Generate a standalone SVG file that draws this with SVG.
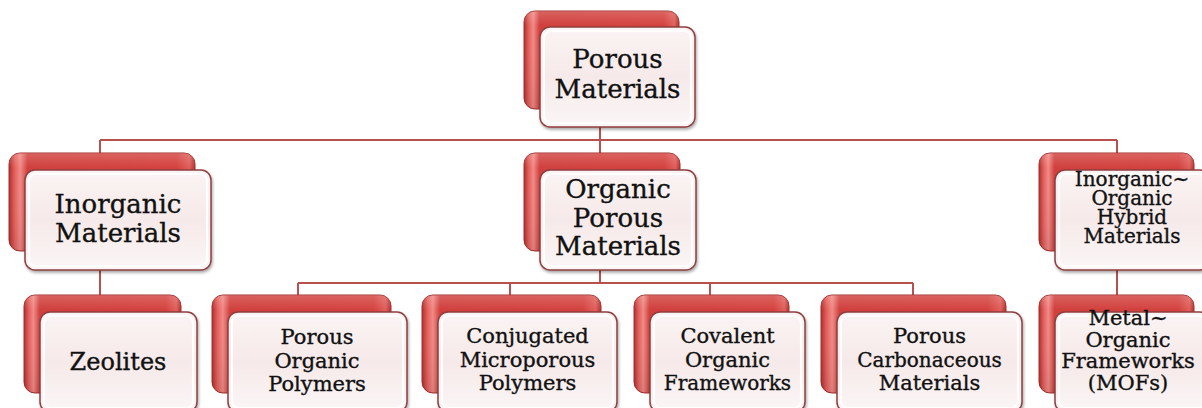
<svg xmlns="http://www.w3.org/2000/svg" width="1202" height="408" viewBox="0 0 1202 408">
<defs>
<linearGradient id="redH" x1="0" y1="0" x2="1" y2="0">
<stop offset="0" stop-color="#b02e2c"/>
<stop offset="0.03" stop-color="#e35f5c"/>
<stop offset="0.06" stop-color="#f08a86"/>
<stop offset="0.1" stop-color="#d0403d"/>
<stop offset="0.9" stop-color="#d4423f"/>
<stop offset="0.97" stop-color="#e0605c"/>
<stop offset="1" stop-color="#b33330"/>
</linearGradient>
<linearGradient id="redV" x1="0" y1="0" x2="0" y2="1">
<stop offset="0" stop-color="#ffffff" stop-opacity="0.18"/>
<stop offset="0.15" stop-color="#ffffff" stop-opacity="0"/>
<stop offset="1" stop-color="#000000" stop-opacity="0.08"/>
</linearGradient>
<linearGradient id="whiteG" x1="0" y1="0" x2="0" y2="1">
<stop offset="0" stop-color="#fbf4f4"/>
<stop offset="0.5" stop-color="#f6e9e9"/>
<stop offset="1" stop-color="#fbf6f6"/>
</linearGradient>
<filter id="sh" x="-10%" y="-10%" width="125%" height="130%">
<feGaussianBlur in="SourceAlpha" stdDeviation="1.5"/>
<feOffset dx="1" dy="2" result="b"/>
<feComponentTransfer><feFuncA type="linear" slope="0.35"/></feComponentTransfer>
<feMerge><feMergeNode/><feMergeNode in="SourceGraphic"/></feMerge>
</filter>
</defs>
<style>
.back{fill:url(#redH);stroke:#a32c2a;stroke-width:1}
.backgl{fill:url(#redV)}
.front{fill:url(#whiteG);stroke:#8e3f3f;stroke-width:1.5;filter:url(#sh)}
.inner{fill:none;stroke:#ffffff;stroke-width:2.2;opacity:0.9}
.conn{fill:none;stroke:#b8504d;stroke-width:2}
text{font-family:"DejaVu Serif","Liberation Serif",serif;fill:#111;stroke:#111;stroke-width:0.35;text-anchor:middle}
.t26{font-size:26px}
.t24{font-size:24px}
.t21{font-size:21px}
.t20{font-size:20px}
</style>
<rect width="1202" height="408" fill="#ffffff"/>
<g id="connectors">
<path class="conn" d="M600 127V140M100 140H1117M100 140V153M600 140V153M1117 140V153"/>
<path class="conn" d="M100 268V295"/>
<path class="conn" d="M600 268V283M298 283H913M298 283V295M510 283V295M710 283V295M913 283V295"/>
<path class="conn" d="M1117 268V295"/>
</g>
<g id="n-porous">
<rect class="back" x="524" y="11" width="155" height="98" rx="11"/><rect class="backgl" x="524" y="11" width="155" height="98" rx="11"/>
<rect class="front" x="540" y="27" width="155" height="100" rx="10"/><rect class="inner" x="544" y="31" width="147" height="92" rx="7"/>
<text class="t26" x="617.5" y="68">Porous</text><text class="t26" x="617.5" y="98">Materials</text>
</g>
<g id="n-inorganic">
<rect class="back" x="9" y="153" width="186" height="98" rx="11"/><rect class="backgl" x="9" y="153" width="186" height="98" rx="11"/>
<rect class="front" x="25" y="170" width="186" height="100" rx="10"/><rect class="inner" x="29" y="174" width="178" height="92" rx="7"/>
<text class="t26" x="118" y="213">Inorganic</text><text class="t26" x="118" y="242">Materials</text>
</g>
<g id="n-organic">
<rect class="back" x="524" y="153" width="156" height="98" rx="11"/><rect class="backgl" x="524" y="153" width="156" height="98" rx="11"/>
<rect class="front" x="540" y="170" width="156" height="100" rx="10"/><rect class="inner" x="544" y="174" width="148" height="92" rx="7"/>
<text class="t26" x="618" y="198">Organic</text><text class="t26" x="618" y="227">Porous</text><text class="t26" x="618" y="255">Materials</text>
</g>
<g id="n-hybrid">
<rect class="back" x="1039" y="153" width="155" height="98" rx="11"/><rect class="backgl" x="1039" y="153" width="155" height="98" rx="11"/>
<rect class="front" x="1055" y="170" width="155" height="100" rx="10"/><rect class="inner" x="1059" y="174" width="147" height="92" rx="7"/>
<text class="t20" x="1132" y="186">Inorganic~</text><text class="t20" x="1132" y="205">Organic</text><text class="t20" x="1132" y="224">Hybrid</text><text class="t20" x="1132" y="243">Materials</text>
</g>
<g id="n-zeolites">
<rect class="back" x="24" y="295" width="157" height="98" rx="11"/><rect class="backgl" x="24" y="295" width="157" height="98" rx="11"/>
<rect class="front" x="40" y="312" width="157" height="100" rx="10"/><rect class="inner" x="44" y="316" width="149" height="92" rx="7"/>
<text class="t24" x="118" y="370">Zeolites</text>
</g>
<g id="n-pop">
<rect class="back" x="212" y="295" width="179" height="98" rx="11"/><rect class="backgl" x="212" y="295" width="179" height="98" rx="11"/>
<rect class="front" x="228" y="312" width="179" height="100" rx="10"/><rect class="inner" x="232" y="316" width="171" height="92" rx="7"/>
<text class="t21" x="317" y="344">Porous</text><text class="t21" x="317" y="368">Organic</text><text class="t21" x="317" y="391">Polymers</text>
</g>
<g id="n-cmp">
<rect class="back" x="422" y="295" width="179" height="98" rx="11"/><rect class="backgl" x="422" y="295" width="179" height="98" rx="11"/>
<rect class="front" x="438" y="312" width="179" height="100" rx="10"/><rect class="inner" x="442" y="316" width="171" height="92" rx="7"/>
<text class="t21" x="527.5" y="343">Conjugated</text><text class="t21" x="527.5" y="367">Microporous</text><text class="t21" x="527.5" y="390">Polymers</text>
</g>
<g id="n-cof">
<rect class="back" x="634" y="295" width="155" height="98" rx="11"/><rect class="backgl" x="634" y="295" width="155" height="98" rx="11"/>
<rect class="front" x="650" y="312" width="155" height="100" rx="10"/><rect class="inner" x="654" y="316" width="147" height="92" rx="7"/>
<text class="t21" x="727.5" y="343">Covalent</text><text class="t21" x="727.5" y="367">Organic</text><text class="t20" x="727.5" y="390">Frameworks</text>
</g>
<g id="n-pcm">
<rect class="back" x="821" y="295" width="185" height="98" rx="11"/><rect class="backgl" x="821" y="295" width="185" height="98" rx="11"/>
<rect class="front" x="837" y="312" width="185" height="100" rx="10"/><rect class="inner" x="841" y="316" width="177" height="92" rx="7"/>
<text class="t21" x="929.5" y="343">Porous</text><text class="t20" x="929.5" y="367">Carbonaceous</text><text class="t21" x="929.5" y="390">Materials</text>
</g>
<g id="n-mof">
<rect class="back" x="1039" y="295" width="155" height="98" rx="11"/><rect class="backgl" x="1039" y="295" width="155" height="98" rx="11"/>
<rect class="front" x="1055" y="312" width="155" height="100" rx="10"/><rect class="inner" x="1059" y="316" width="147" height="92" rx="7"/>
<text class="t21" x="1128" y="325">Metal~</text><text class="t21" x="1128" y="347">Organic</text><text class="t21" x="1128" y="368">Frameworks</text><text class="t21" x="1128" y="390">(MOFs)</text>
</g>
</svg>
